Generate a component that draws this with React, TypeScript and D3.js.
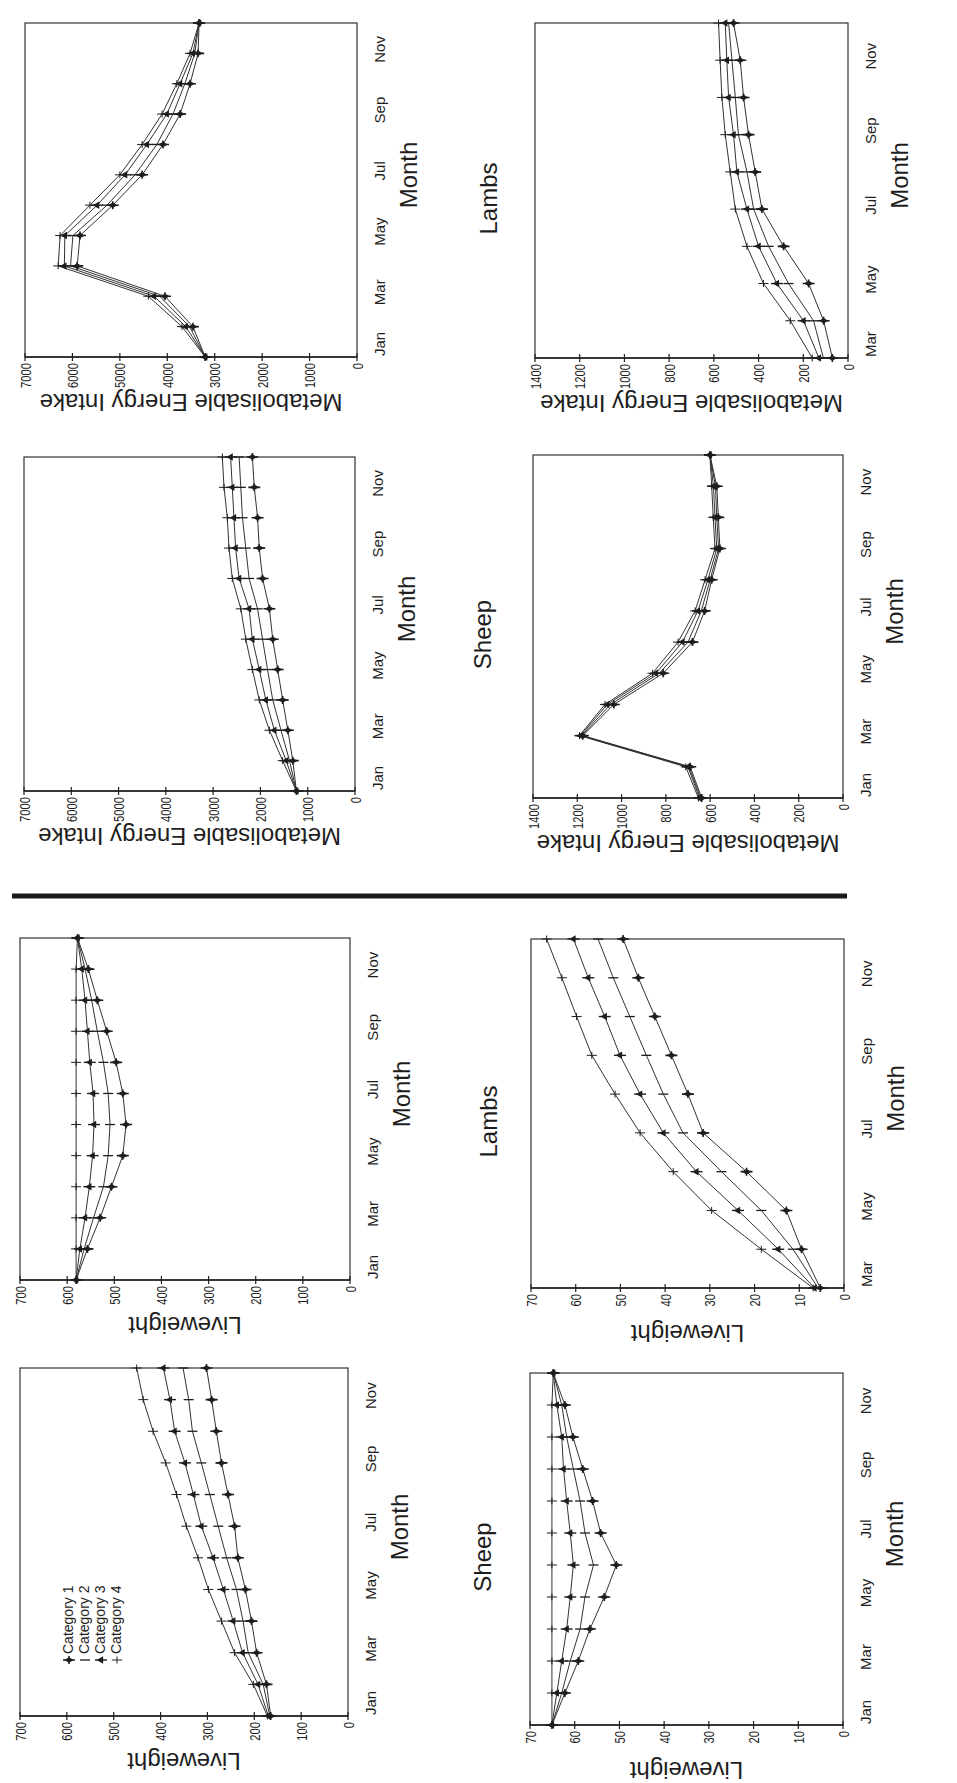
import React from 'react';
import * as d3 from 'd3';

const W = 957;
const H = 1783;
const FONT = "'Liberation Sans', Arial, Helvetica, sans-serif";
const INK = '#1e1e1e';

// ---------- categories & months ----------
const categories = ['Category 1', 'Category 2', 'Category 3', 'Category 4'];
const monthsYear = ['Jan', 'Feb', 'Mar', 'Apr', 'May', 'Jun', 'Jul', 'Aug', 'Sep', 'Oct', 'Nov', 'Dec'];
const monthsLambs = ['Mar', 'Apr', 'May', 'Jun', 'Jul', 'Aug', 'Sep', 'Oct', 'Nov', 'Dec'];
const tickMonthsYear = ['Jan', 'Mar', 'May', 'Jul', 'Sep', 'Nov'];
const tickMonthsLambs = ['Mar', 'May', 'Jul', 'Sep', 'Nov'];

// ---------- Cattle (growing) liveweight, Jan..Dec ----------
const cattleLW_c1 = [165, 174, 195, 206, 219, 235, 242, 256, 270, 281, 291, 302];
const cattleLW_c2 = [167, 181, 213, 224, 238, 259, 277, 295, 313, 332, 340, 352];
const cattleLW_c3 = [170, 192, 225, 245, 266, 288, 313, 330, 348, 370, 380, 394];
const cattleLW_c4 = [172, 202, 242, 270, 298, 320, 345, 366, 389, 416, 437, 451];

// ---------- Cows liveweight, Jan..Dec ----------
const cowLW_c1 = [581, 557, 530, 506, 482, 475, 482, 496, 516, 536, 555, 578];
const cowLW_c2 = [581, 564, 544, 523, 513, 509, 513, 523, 536, 548, 562, 578];
const cowLW_c3 = [581, 573, 562, 553, 546, 543, 545, 552, 557, 562, 569, 578];
const cowLW_c4 = [581, 581, 581, 581, 581, 581, 581, 581, 581, 581, 581, 578];

// ---------- Cattle ME intake (1), Jan..Dec ----------
const cattleME_c1 = [1240, 1315, 1420, 1530, 1635, 1740, 1810, 1955, 2025, 2060, 2130, 2170];
const cattleME_c2 = [1240, 1385, 1565, 1740, 1850, 1955, 2060, 2240, 2310, 2380, 2415, 2450];
const cattleME_c3 = [1240, 1455, 1705, 1885, 2025, 2170, 2240, 2450, 2525, 2560, 2595, 2630];
const cattleME_c4 = [1240, 1530, 1810, 2025, 2170, 2310, 2415, 2595, 2665, 2700, 2770, 2805];

// ---------- Cows ME intake (2), Jan..Dec ----------
const cowME_c1 = [3200, 3460, 4050, 5900, 5840, 5150, 4530, 4090, 3730, 3520, 3350, 3330];
const cowME_c2 = [3200, 3530, 4160, 6040, 5990, 5270, 4680, 4220, 3880, 3630, 3420, 3330];
const cowME_c3 = [3200, 3610, 4280, 6170, 6160, 5480, 4890, 4430, 4010, 3730, 3460, 3330];
const cowME_c4 = [3200, 3690, 4400, 6300, 6260, 5630, 5000, 4530, 4110, 3800, 3520, 3330];

// ---------- Sheep liveweight, Jan..Dec ----------
const sheepLW_c1 = [65.1, 62.2, 59.2, 56.6, 53.4, 50.7, 54.2, 56.0, 58.2, 60.4, 62.2, 64.8];
const sheepLW_c2 = [65.1, 62.9, 61.0, 58.8, 57.7, 55.8, 57.7, 58.8, 60.3, 61.8, 62.9, 64.8];
const sheepLW_c3 = [65.1, 64.0, 62.9, 61.8, 61.0, 60.3, 61.0, 61.8, 62.5, 62.9, 64.0, 64.8];
const sheepLW_c4 = [65.1, 65.1, 65.1, 65.1, 65.1, 65.1, 65.1, 65.1, 65.1, 65.1, 65.1, 64.8];

// ---------- Lambs liveweight, Mar..Dec ----------
const lambLW_c1 = [5.3, 9.5, 12.9, 21.8, 31.5, 34.9, 38.6, 42.3, 46.0, 49.4];
const lambLW_c2 = [5.8, 11.4, 18.5, 27.4, 36.0, 40.4, 44.2, 47.9, 51.6, 55.0];
const lambLW_c3 = [6.6, 14.7, 23.7, 33.0, 40.4, 45.6, 50.1, 53.5, 57.2, 60.5];
const lambLW_c4 = [6.9, 18.5, 29.6, 38.2, 45.6, 51.2, 56.4, 59.8, 63.1, 66.5];

// ---------- Sheep ME intake, Jan..Dec ----------
const sheepME_c1 = [638, 690, 1175, 1035, 812, 680, 625, 593, 556, 563, 570, 601];
const sheepME_c2 = [643, 695, 1180, 1050, 830, 700, 640, 600, 562, 570, 576, 601];
const sheepME_c3 = [648, 700, 1185, 1065, 845, 725, 655, 610, 570, 578, 585, 601];
const sheepME_c4 = [653, 710, 1190, 1075, 860, 745, 668, 623, 578, 586, 593, 601];

// ---------- Lambs ME intake, Mar..Dec ----------
const lambME_c1 = [70, 109, 176, 288, 385, 415, 445, 467, 482, 512];
const lambME_c2 = [110, 154, 266, 355, 422, 452, 490, 504, 519, 534];
const lambME_c3 = [130, 199, 318, 400, 452, 497, 512, 534, 542, 549];
const lambME_c4 = [160, 258, 378, 452, 504, 527, 549, 564, 572, 579];

// Layout is drawn in the un-rotated page frame (u to the right, v down),
// page is 1783 wide x 957 tall, then turned 90 degrees anticlockwise.
type Panel = {
  id: string;
  series: number[][];
  months: string[];
  tickMonths: string[];
  max: number;
  step: number;
  yLabel: string;
  title?: string;
  titleV?: number;
  legend?: boolean;
  box: [number, number, number, number]; // left, right, top, bottom
};

const panels: Panel[] = [
  { id: 'cattleLW', series: [cattleLW_c1, cattleLW_c2, cattleLW_c3, cattleLW_c4], months: monthsYear, tickMonths: tickMonthsYear, max: 700, step: 100, yLabel: 'Liveweight', legend: true, box: [67, 415, 20, 348] },
  { id: 'cowLW', series: [cowLW_c1, cowLW_c2, cowLW_c3, cowLW_c4], months: monthsYear, tickMonths: tickMonthsYear, max: 700, step: 100, yLabel: 'Liveweight', box: [503, 845, 20, 350] },
  { id: 'cattleME', series: [cattleME_c1, cattleME_c2, cattleME_c3, cattleME_c4], months: monthsYear, tickMonths: tickMonthsYear, max: 7000, step: 1000, yLabel: 'Metabolisable Energy Intake', box: [992, 1326, 24, 355] },
  { id: 'cowME', series: [cowME_c1, cowME_c2, cowME_c3, cowME_c4], months: monthsYear, tickMonths: tickMonthsYear, max: 7000, step: 1000, yLabel: 'Metabolisable Energy Intake', box: [1426, 1760, 25, 357] },
  { id: 'sheepLW', series: [sheepLW_c1, sheepLW_c2, sheepLW_c3, sheepLW_c4], months: monthsYear, tickMonths: tickMonthsYear, max: 70, step: 10, yLabel: 'Liveweight', title: 'Sheep', titleV: 491, box: [58, 410, 530, 843] },
  { id: 'lambLW', series: [lambLW_c1, lambLW_c2, lambLW_c3, lambLW_c4], months: monthsLambs, tickMonths: tickMonthsLambs, max: 70, step: 10, yLabel: 'Liveweight', title: 'Lambs', titleV: 497, box: [495, 844, 531, 844] },
  { id: 'sheepME', series: [sheepME_c1, sheepME_c2, sheepME_c3, sheepME_c4], months: monthsYear, tickMonths: tickMonthsYear, max: 1400, step: 200, yLabel: 'Metabolisable Energy Intake', title: 'Sheep', titleV: 491, box: [985, 1328, 533, 843] },
  { id: 'lambME', series: [lambME_c1, lambME_c2, lambME_c3, lambME_c4], months: monthsLambs, tickMonths: tickMonthsLambs, max: 1400, step: 200, yLabel: 'Metabolisable Energy Intake', title: 'Lambs', titleV: 497, box: [1425, 1760, 535, 848] },
];

const diamondPath = d3.symbol().type(d3.symbolDiamond).size(26)() as string;
const trianglePath = d3.symbol().type(d3.symbolTriangle).size(24)() as string;

function Marker({ cat, x, y }: { cat: number; x: number; y: number }) {
  const t = `translate(${x},${y})`;
  if (cat === 0) {
    return (
      <g transform={t}>
        <path d="M0,-6V6M-4,0H4" stroke={INK} strokeWidth={1.6} />
        <path d={diamondPath} fill={INK} />
      </g>
    );
  }
  if (cat === 1) {
    return (
      <g transform={t}>
        <path d="M0,-5V5" stroke={INK} strokeWidth={1.3} />
      </g>
    );
  }
  if (cat === 2) {
    return (
      <g transform={t}>
        <path d="M0,-6V6" stroke={INK} strokeWidth={1.4} />
        <path d={trianglePath} fill={INK} />
      </g>
    );
  }
  return (
    <g transform={t}>
      <path d="M0,-5V5M-3.5,0H3.5" stroke={INK} strokeWidth={1} />
    </g>
  );
}

function PanelView({ p }: { p: Panel }) {
  const [left, right, top, bottom] = p.box;
  const x = d3.scalePoint<string>().domain(p.months).range([left, right]).padding(0);
  const y = d3.scaleLinear().domain([0, p.max]).range([bottom, top]);
  const yTicks = d3.range(0, p.max + p.step / 2, p.step);
  const line = d3
    .line<number>()
    .x((_, i) => x(p.months[i]) as number)
    .y((d) => y(d));
  const cx = (left + right) / 2;
  const cy = (top + bottom) / 2;

  return (
    <g>
      {/* frame */}
      <rect x={left} y={top} width={right - left} height={bottom - top} fill="none" stroke="#333" strokeWidth={1.2} />
      <line x1={left} x2={left} y1={top} y2={bottom} stroke={INK} strokeWidth={1.6} />

      {/* value axis ticks */}
      {yTicks.map((t) => (
        <g key={t}>
          <line x1={left - 4} x2={left + 4} y1={y(t)} y2={y(t)} stroke={INK} strokeWidth={1.2} />
          <g transform={`translate(${left - 6},${y(t) + 5.5}) scale(0.75,1)`}>
            <text textAnchor="end" fontSize={15} fontFamily={FONT} fill={INK}>
              {t}
            </text>
          </g>
        </g>
      ))}

      {/* month tick labels */}
      {p.tickMonths.map((m, i) => {
        const px = x(m) as number;
        return (
          <text
            key={m}
            x={i === 0 ? left + 1 : px + 4}
            y={bottom + 28}
            textAnchor={i === 0 ? 'start' : 'middle'}
            fontSize={15}
            fontFamily={FONT}
            fill={INK}
          >
            {m}
          </text>
        );
      })}

      {/* axis titles */}
      <text
        transform={`translate(${left - 37},${cy}) rotate(-90)`}
        textAnchor="middle"
        fontSize={24}
        fontFamily={FONT}
        fill={INK}
      >
        {p.yLabel}
      </text>
      <text x={cx + 15} y={bottom + 60} textAnchor="middle" fontSize={24} fontFamily={FONT} fill={INK}>
        Month
      </text>
      {p.title && (
        <text x={cx - 8} y={p.titleV} textAnchor="middle" fontSize={24} fontFamily={FONT} fill={INK}>
          {p.title}
        </text>
      )}

      {/* lines */}
      {p.series.map((s, ci) => (
        <path key={ci} d={line(s) as string} fill="none" stroke="#333" strokeWidth={1} />
      ))}
      {/* markers */}
      {p.series.map((s, ci) =>
        s.map((v, i) => <Marker key={`${ci}-${i}`} cat={ci} x={x(p.months[i]) as number} y={y(v)} />)
      )}

      {/* legend */}
      {p.legend && (
        <g>
          {categories.map((c, i) => (
            <g key={c}>
              <Marker cat={i} x={left + 56} y={top + 49 + i * 16} />
              <text x={left + 62} y={top + 53 + i * 16} fontSize={14} fontFamily={FONT} fill={INK}>
                {c}
              </text>
            </g>
          ))}
        </g>
      )}
    </g>
  );
}

export default function App() {
  return (
    <svg
      width={W}
      height={H}
      viewBox={`0 0 ${W} ${H}`}
      style={{ position: 'absolute', left: 0, top: 0, display: 'block', background: '#ffffff' }}
    >
      <rect x={0} y={0} width={W} height={H} fill="#ffffff" />
      <g transform={`translate(0,${H}) rotate(-90)`}>
        {panels.map((p) => (
          <PanelView key={p.id} p={p} />
        ))}
        {/* divider between liveweight and intake panels */}
        <line x1={887} x2={887} y1={12} y2={847} stroke="#1a1a1a" strokeWidth={5} />
      </g>
    </svg>
  );
}
